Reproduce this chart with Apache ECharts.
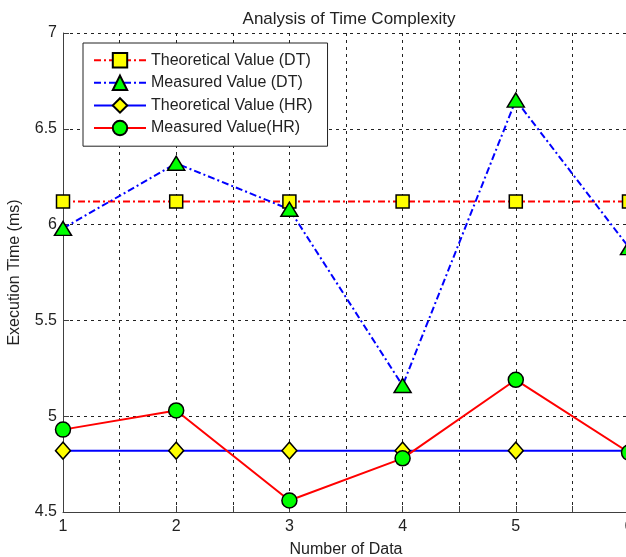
<!DOCTYPE html>
<html>
<head>
<meta charset="utf-8">
<script src="https://cdn.jsdelivr.net/npm/echarts@6/dist/echarts.min.js"></script>
<style>
  html, body { margin: 0; padding: 0; background: #fff; }
  #chart { width: 626px; height: 557px; }
</style>
</head>
<body>
<div id="chart"></div>
<script>
const dataCount = [1, 2, 3, 4, 5, 6];
const theoreticalDT = [6.12, 6.12, 6.12, 6.12, 6.12, 6.12];
const measuredDT = [5.98, 6.32, 6.08, 5.16, 6.65, 5.88];
const theoreticalHR = [4.82, 4.82, 4.82, 4.82, 4.82, 4.82];
const measuredHR = [4.93, 5.03, 4.56, 4.78, 5.19, 4.81];

const FONT = "'Liberation Sans', Arial, sans-serif";
const TEXT = "#222";
const dashDot = [7, 3, 2, 3];

const pairs = (ys) => dataCount.map((x, i) => [x, ys[i]]);

const chart = echarts.init(document.getElementById("chart"));

function axisCommon() {
  return {
    axisLine: { show: true, lineStyle: { color: "#404040", width: 1 } },
    axisTick: { show: true, inside: true, length: 6, lineStyle: { color: "#404040" } },
    splitLine: { show: true, lineStyle: { color: "#222", type: [3, 4], width: 1 } },
    nameTextStyle: { fontFamily: FONT, fontSize: 16, color: TEXT },
  };
}

chart.setOption({
  animation: false,
  backgroundColor: "#fff",
  title: {
    text: "Analysis of Time Complexity",
    left: 344,
    textAlign: "center",
    top: 6,
    textStyle: { fontFamily: FONT, fontSize: 17, fontWeight: "normal", color: TEXT },
  },
  legend: {
    orient: "vertical",
    left: 83,
    top: 43,
    padding: [9, 15, 10, 10],
    itemWidth: 52,
    itemHeight: 18,
    itemGap: 6.2,
    backgroundColor: "#fff",
    borderColor: "#222",
    borderWidth: 1,
    borderRadius: 0,
    textStyle: { fontFamily: FONT, fontSize: 16, color: TEXT },
    data: ["Theoretical Value (DT)", "Measured Value (DT)", "Theoretical Value (HR)", "Measured Value(HR)"],
  },
  grid: { left: 63, top: 33, width: 566, height: 479, outerBoundsMode: "none", containLabel: false },
  xAxis: Object.assign(axisCommon(), {
    type: "value",
    min: 1,
    max: 6,
    interval: 0.5,
    name: "Number of Data",
    nameLocation: "middle",
    nameGap: 30,
    axisLabel: {
      fontFamily: FONT,
      fontSize: 16,
      color: TEXT,
      margin: 7,
      hideOverlap: false,
      showMaxLabel: true,
      formatter: (v) => (Number.isInteger(v) ? String(v) : ""),
    },
  }),
  yAxis: Object.assign(axisCommon(), {
    type: "value",
    min: 4.5,
    max: 7,
    interval: 0.5,
    name: "Execution Time (ms)",
    nameLocation: "middle",
    nameGap: 40,
    axisLabel: { fontFamily: FONT, fontSize: 16, color: TEXT, margin: 6 },
  }),
  series: [
    {
      name: "Theoretical Value (DT)",
      type: "line",
      data: pairs(theoreticalDT),
      symbol: "rect",
      symbolSize: 13,
      lineStyle: { color: "#ff0000", width: 2, type: dashDot },
      itemStyle: { color: "#ffff00", borderColor: "#000", borderWidth: 1.5 },
    },
    {
      name: "Measured Value (DT)",
      type: "line",
      data: pairs(measuredDT),
      symbol: "triangle",
      symbolSize: [17, 14],
      lineStyle: { color: "#0000ff", width: 2, type: dashDot },
      itemStyle: { color: "#00ff00", borderColor: "#000", borderWidth: 1.5 },
    },
    {
      name: "Theoretical Value (HR)",
      type: "line",
      data: pairs(theoreticalHR),
      symbol: "diamond",
      symbolSize: [15, 17],
      lineStyle: { color: "#0000ff", width: 2 },
      itemStyle: { color: "#ffff00", borderColor: "#000", borderWidth: 1.5 },
    },
    {
      name: "Measured Value(HR)",
      type: "line",
      data: pairs(measuredHR),
      symbol: "circle",
      symbolSize: 15,
      lineStyle: { color: "#ff0000", width: 2 },
      itemStyle: { color: "#00ff00", borderColor: "#000", borderWidth: 1.5 },
    },
  ],
});
</script>
</body>
</html>
